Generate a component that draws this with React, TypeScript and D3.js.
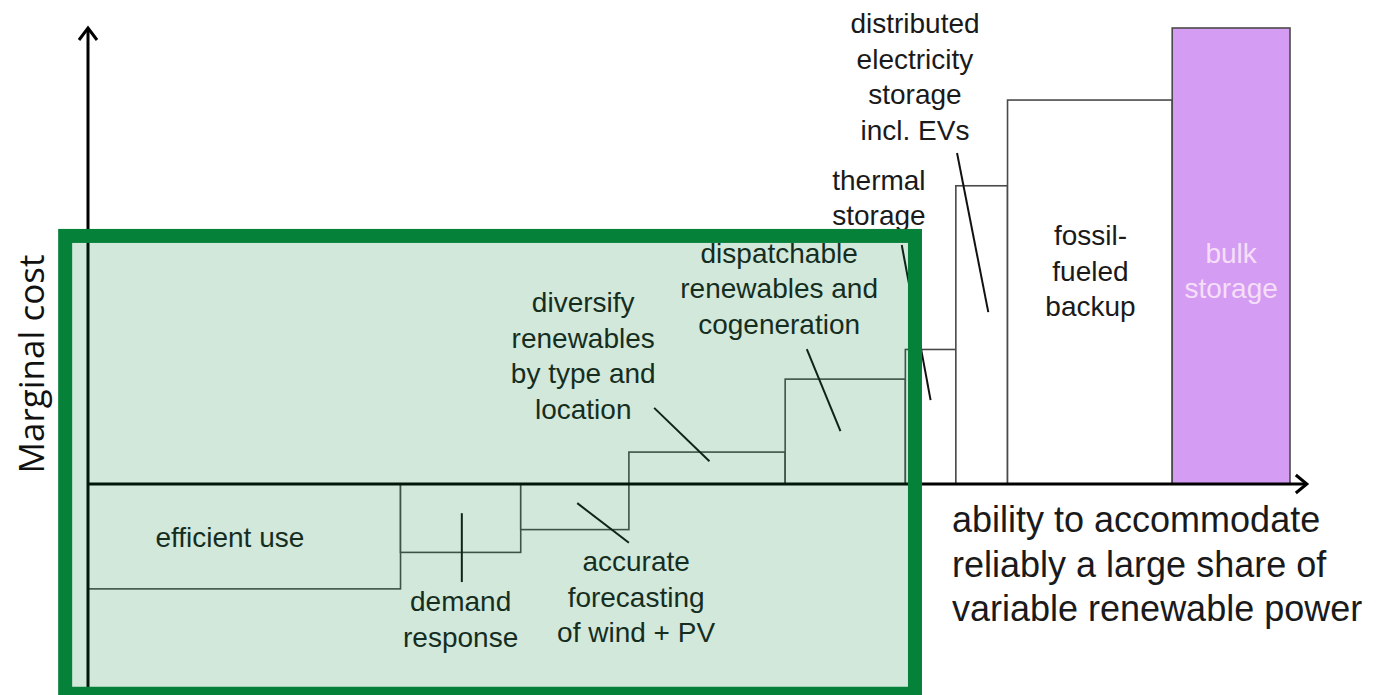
import React from 'react';
import * as d3 from 'd3';

// steps of the flexibility supply curve, left to right
const stepNames = [
  'efficient use',
  'demand response',
  'accurate forecasting',
  'diversify renewables',
  'dispatchable renewables',
  'thermal storage',
  'distributed storage',
  'fossil-fueled backup',
  'bulk storage',
];
// width of each step (share of variable renewable power it can accommodate)
const stepShares = [26, 10, 9, 13, 10, 4.2, 4.3, 13.7, 9.8];
// marginal cost of each step (negative = saves money)
const stepCosts = [-23, -15, -10, 7, 23, 29.5, 65.4, 84.2, 100];

// text labels: lines, anchor (x centre, first baseline) in chart units
const labelLines = [
  ['efficient use'],
  ['demand', 'response'],
  ['accurate', 'forecasting', 'of wind + PV'],
  ['diversify', 'renewables', 'by type and', 'location'],
  ['dispatchable', 'renewables and', 'cogeneration'],
  ['thermal', 'storage'],
  ['distributed', 'electricity', 'storage', 'incl. EVs'],
  ['fossil-', 'fueled', 'backup'],
  ['bulk', 'storage'],
];
const labelX = [11.8, 31.0, 45.6, 41.2, 57.5, 65.8, 68.8, 83.4, 95.1];
const labelY = [-13.8, -27.9, -19.1, 37.7, 48.5, 64.5, 98.9, 52.4, 48.5];

// leader lines from label to step: [x1, y1, x2, y2] in chart units
const leaders: Array<[number, number, number, number]> = [
  [31.1, -6.4, 31.1, -21.5],
  [40.7, -4.2, 45.0, -12.9],
  [47.1, 16.7, 51.7, 5.0],
  [59.8, 29.6, 62.6, 11.6],
  [67.7, 52.4, 70.1, 18.4],
  [72.3, 72.6, 74.9, 37.7],
];

const xAxisTitle = ['ability to accommodate', 'reliably a large share of', 'variable renewable power'];
const yAxisTitle = 'Marginal cost';

const W = 1378;
const H = 695;
const FONT = '"Liberation Sans", Arial, Helvetica, sans-serif';

const App: React.FC = () => {
  const x = d3.scaleLinear().domain([0, 100]).range([88, 1290]);
  const y = d3.scaleLinear().domain([0, 100]).range([484, 28]);

  const edges = [0, ...d3.cumsum(stepShares)];
  const bars = stepNames.map((name, i) => ({
    name,
    x0: edges[i],
    x1: edges[i + 1],
    cost: stepCosts[i],
  }));

  const xTip = x(101.4);
  const yTip = y(100);
  const yBottom = y(-45);

  // highlighted region (overlay box) in chart units
  const hl = { x0: -1.9, x1: 68.8, y0: -46, y1: 54.4 };

  return (
    <div>
      <style>{'body{margin:0;background:#fff}'}</style>
      <svg width={W} height={H} style={{ display: 'block', background: '#ffffff' }}>
        {/* steps */}
        {bars.map((b, i) => (
          <rect
            key={b.name}
            x={x(b.x0)}
            y={Math.min(y(b.cost), y(0))}
            width={x(b.x1) - x(b.x0)}
            height={Math.abs(y(b.cost) - y(0))}
            fill={i === bars.length - 1 ? '#d59cf3' : '#ffffff'}
            stroke="#4a4a4a"
            strokeWidth={1.6}
          />
        ))}

        {/* axes */}
        <line x1={x(0)} x2={xTip} y1={y(0)} y2={y(0)} stroke="#000" strokeWidth={3} />
        <line x1={x(0)} x2={x(0)} y1={yBottom} y2={yTip} stroke="#000" strokeWidth={3} />
        <path
          d={`M${xTip - 11},${y(0) - 9}L${xTip},${y(0)}L${xTip - 11},${y(0) + 9}`}
          fill="none"
          stroke="#000"
          strokeWidth={3}
        />
        <path
          d={`M${x(0) - 9},${yTip + 12}L${x(0)},${yTip}L${x(0) + 9},${yTip + 12}`}
          fill="none"
          stroke="#000"
          strokeWidth={3}
        />

        {/* leader lines */}
        {leaders.map((l, i) => (
          <line
            key={i}
            x1={x(l[0])}
            y1={y(l[1])}
            x2={x(l[2])}
            y2={y(l[3])}
            stroke="#111"
            strokeWidth={2}
          />
        ))}

        {/* step labels */}
        {labelLines.map((lines, i) => (
          <text
            key={i}
            x={x(labelX[i])}
            y={y(labelY[i])}
            textAnchor="middle"
            fontFamily={FONT}
            fontSize={28}
            fill={i === labelLines.length - 1 ? '#f5dff8' : '#1a1a1a'}
          >
            {lines.map((t, j) => (
              <tspan key={j} x={x(labelX[i])} dy={j === 0 ? 0 : 35.5}>
                {t}
              </tspan>
            ))}
          </text>
        ))}

        {/* x axis title */}
        <text x={952} y={532} fontFamily={FONT} fontSize={36} fill="#1a1a1a">
          {xAxisTitle.map((t, j) => (
            <tspan key={j} x={952} dy={j === 0 ? 0 : 44.5}>
              {t}
            </tspan>
          ))}
        </text>

        {/* y axis title */}
        <text
          transform={`translate(44,${y(26.3)}) rotate(-90)`}
          textAnchor="middle"
          fontFamily='"Open Sans", sans-serif'
          fontSize={35}
          fill="#111"
        >
          {yAxisTitle}
        </text>

        {/* highlight box */}
        <rect
          x={x(hl.x0)}
          y={y(hl.y1)}
          width={x(hl.x1) - x(hl.x0)}
          height={y(hl.y0) - y(hl.y1)}
          fill="rgb(5,128,56)"
          fillOpacity={0.18}
          stroke="#068139"
          strokeWidth={14}
        />
      </svg>
    </div>
  );
};

export default App;
